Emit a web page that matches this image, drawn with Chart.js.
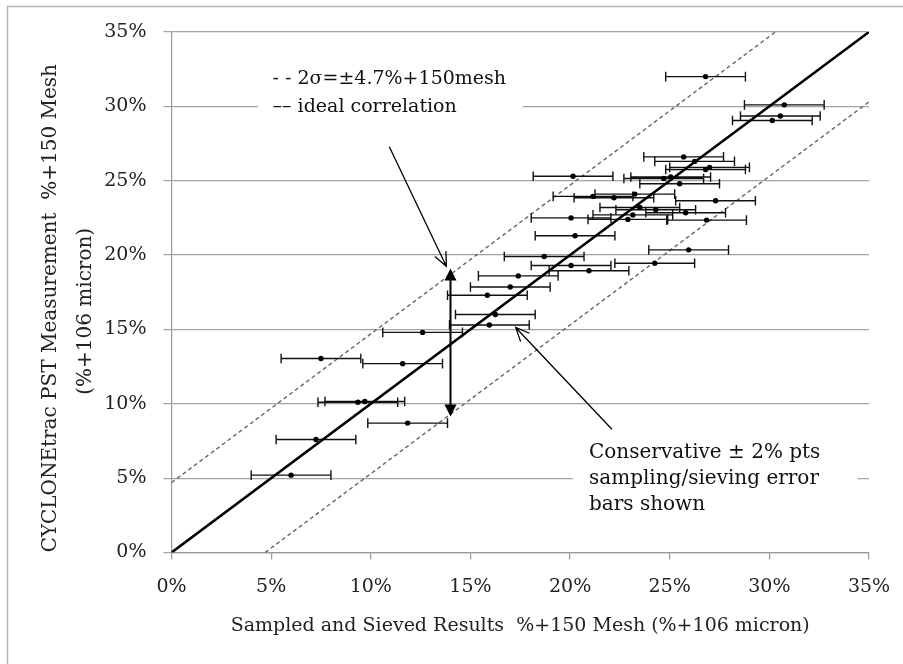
<!DOCTYPE html>
<html>
<head>
<title>CYCLONEtrac PST vs sieved results</title>
<script src="https://cdn.jsdelivr.net/npm/chart.js"></script>
<style>
html,body{margin:0;padding:0;background:#fff;}
#wrap{width:903px;height:664px;position:relative;}
</style>
</head>
<body>
<div id="wrap"><canvas id="pstChart"></canvas></div>
<script>
// sampled & sieved %+150 mesh (x) vs CYCLONEtrac PST reading (y), both in %
const sievedX = [6.0, 7.25, 11.85, 9.35, 9.7, 7.5, 11.6, 12.6, 15.95, 16.25,
  15.85, 17.0, 17.4, 20.95, 20.05, 18.7, 24.25, 25.95, 20.25, 20.05,
  22.9, 26.85, 23.15, 25.8, 24.3, 23.5, 27.3, 21.15, 22.2, 23.25,
  25.5, 24.7, 25.05, 20.15, 26.8, 27.0, 26.25, 25.7, 30.15, 30.55,
  30.75, 26.8];
const pstY = [5.2, 7.6, 8.7, 10.1, 10.15, 13.05, 12.7, 14.8, 15.3, 16.0,
  17.3, 17.85, 18.6, 18.95, 19.3, 19.9, 19.45, 20.35, 21.3, 22.5,
  22.4, 22.35, 22.7, 22.85, 23.05, 23.2, 23.65, 23.95, 23.85, 24.1,
  24.8, 25.15, 25.25, 25.3, 25.75, 25.9, 26.3, 26.6, 29.05, 29.35,
  30.1, 32.0];
const xErr = 2; // +/- 2% pts sieving error
const idealLine = [[0, 0], [35, 35]];
const upperBand = [[0, 4.7], [30.3, 35]];
const lowerBand = [[4.7, 0], [35, 30.3]];
const tickValues = [0, 5, 10, 15, 20, 25, 30, 35];

const serif = 'DejaVu Serif';
const pts = a => a.map(p => ({x: p[0], y: p[1]}));

const barData = [];
sievedX.forEach((x, i) => {
  barData.push({x: x - xErr, y: pstY[i]}, {x: x + xErr, y: pstY[i]}, {x: x, y: null});
});

// annotation geometry, in data units
const notes = {
  legendBox: [4.34, 28.99, 17.63, 33.28],
  legendX: 5.07,
  legendLines: [[31.86, '- - 2σ=±4.7%+150mesh'], [29.98, '–– ideal correlation']],
  consBox: [20.14, 2.05, 34.43, 8.11],
  consX: 20.95,
  consLines: [[6.68, 'Conservative ± 2% pts'], [4.93, 'sampling/sieving error'], [3.2, 'bars shown']],
  spanX: 14, spanLo: 9.15, spanHi: 19.1,
  arrows: [[10.93, 27.29, 13.79, 19.25], [22.1, 8.29, 17.27, 15.13]]
};

function openArrow(ctx, x1, y1, x2, y2) {
  const a = Math.atan2(y2 - y1, x2 - x1), L = 15, w = 0.42;
  ctx.beginPath();
  ctx.moveTo(x1, y1); ctx.lineTo(x2, y2);
  ctx.moveTo(x2 - L * Math.cos(a - w), y2 - L * Math.sin(a - w));
  ctx.lineTo(x2, y2);
  ctx.lineTo(x2 - L * Math.cos(a + w), y2 - L * Math.sin(a + w));
  ctx.stroke();
}

const notesPlugin = {
  id: 'notes',
  beforeDatasetsDraw(chart) {
    const {ctx, scales: {x, y}} = chart;
    ctx.save();
    ctx.fillStyle = '#fff';
    [notes.legendBox, notes.consBox].forEach(b => {
      const l = x.getPixelForValue(b[0]), r = x.getPixelForValue(b[2]);
      const t = y.getPixelForValue(b[3]), btm = y.getPixelForValue(b[1]);
      ctx.fillRect(l, t, r - l, btm - t);
    });
    ctx.restore();
  },
  afterDatasetsDraw(chart) {
    const {ctx, scales: {x, y}} = chart;
    ctx.save();
    ctx.fillStyle = '#111';
    ctx.textBaseline = 'middle';
    ctx.textAlign = 'left';
    ctx.font = '19px "' + serif + '"';
    notes.legendLines.forEach(l => ctx.fillText(l[1], x.getPixelForValue(notes.legendX), y.getPixelForValue(l[0])));
    ctx.font = '20px "' + serif + '"';
    notes.consLines.forEach(l => ctx.fillText(l[1], x.getPixelForValue(notes.consX), y.getPixelForValue(l[0])));

    // double headed span arrow
    const sx = x.getPixelForValue(notes.spanX);
    const top = y.getPixelForValue(notes.spanHi), bot = y.getPixelForValue(notes.spanLo);
    ctx.strokeStyle = '#000';
    ctx.lineWidth = 2;
    ctx.beginPath(); ctx.moveTo(sx, top + 10); ctx.lineTo(sx, bot - 10); ctx.stroke();
    ctx.fillStyle = '#000';
    ctx.beginPath(); ctx.moveTo(sx, top); ctx.lineTo(sx - 6, top + 12); ctx.lineTo(sx + 6, top + 12); ctx.closePath(); ctx.fill();
    ctx.beginPath(); ctx.moveTo(sx, bot); ctx.lineTo(sx - 6, bot - 12); ctx.lineTo(sx + 6, bot - 12); ctx.closePath(); ctx.fill();

    ctx.lineWidth = 1.3;
    notes.arrows.forEach(a => openArrow(ctx, x.getPixelForValue(a[0]), y.getPixelForValue(a[1]),
      x.getPixelForValue(a[2]), y.getPixelForValue(a[3])));
    ctx.restore();
  },
  afterDraw(chart) {
    // outer frame, cut off at the right and bottom of the picture
    const ctx = chart.ctx;
    ctx.save();
    ctx.strokeStyle = '#b4b4b4';
    ctx.lineWidth = 1.5;
    ctx.beginPath();
    ctx.moveTo(7.5, 700); ctx.lineTo(7.5, 6.5); ctx.lineTo(910, 6.5);
    ctx.stroke();
    ctx.restore();
  }
};

const tickFont = {family: serif, size: 19};

new Chart(document.getElementById('pstChart'), {
  type: 'scatter',
  data: {
    datasets: [
      {label: 'PST', data: sievedX.map((v, i) => ({x: v, y: pstY[i]})),
        pointRadius: 2.7, backgroundColor: '#000', borderWidth: 0},
      {label: 'ideal correlation', data: pts(idealLine), showLine: true,
        borderColor: '#000', borderWidth: 2.6, pointRadius: 0},
      {label: 'error', data: barData, showLine: true, spanGaps: false,
        borderColor: '#111', borderWidth: 1.4, pointStyle: 'line', pointRotation: 90,
        pointRadius: 4.8, pointBorderWidth: 1.4, pointBorderColor: '#111'},
      {label: '+2s', data: pts(upperBand), showLine: true, borderDash: [4, 3],
        borderColor: '#666', borderWidth: 1.4, pointRadius: 0},
      {label: '-2s', data: pts(lowerBand), showLine: true, borderDash: [4, 3],
        borderColor: '#666', borderWidth: 1.4, pointRadius: 0}
    ]
  },
  options: {
    responsive: true,
    maintainAspectRatio: false,
    animation: false,
    events: [],
    layout: {padding: {left: 0, right: 34, top: 32, bottom: 23}},
    plugins: {legend: {display: false}, tooltip: {enabled: false}},
    scales: {
      x: {
        type: 'linear', min: 0, max: 35,
        afterBuildTicks: s => { s.ticks = tickValues.map(v => ({value: v})); },
        afterFit: s => { s.height = 88.5; s.paddingLeft = 0; s.paddingRight = 0; },
        ticks: {callback: v => v + '%', font: tickFont, color: '#222', padding: 16, maxRotation: 0},
        grid: {drawOnChartArea: false, drawTicks: true, tickLength: 7, color: '#999', lineWidth: 1.2},
        border: {color: '#999', width: 1.2},
        title: {display: true, text: 'Sampled and Sieved Results  %+150 Mesh (%+106 micron)',
          font: {family: serif, size: 19}, color: '#222', padding: {top: 4, bottom: 4}}
      },
      y: {
        type: 'linear', min: 0, max: 35,
        afterBuildTicks: s => { s.ticks = tickValues.map(v => ({value: v})); },
        afterFit: s => { s.width = 171.5; },
        ticks: {callback: v => v + '%', font: tickFont, color: '#222', padding: 17},
        grid: {color: '#a3a3a3', lineWidth: 1.2, tickLength: 8},
        border: {color: '#999', width: 1.2},
        title: {display: true,
          text: ['CYCLONEtrac PST Measurement  %+150 Mesh     ', '(%+106 micron)      '],
          font: {family: serif, size: 20, lineHeight: 1.75}, color: '#222', padding: {top: 33, bottom: 0}}
      }
    }
  },
  plugins: [notesPlugin]
});
</script>
</body>
</html>
